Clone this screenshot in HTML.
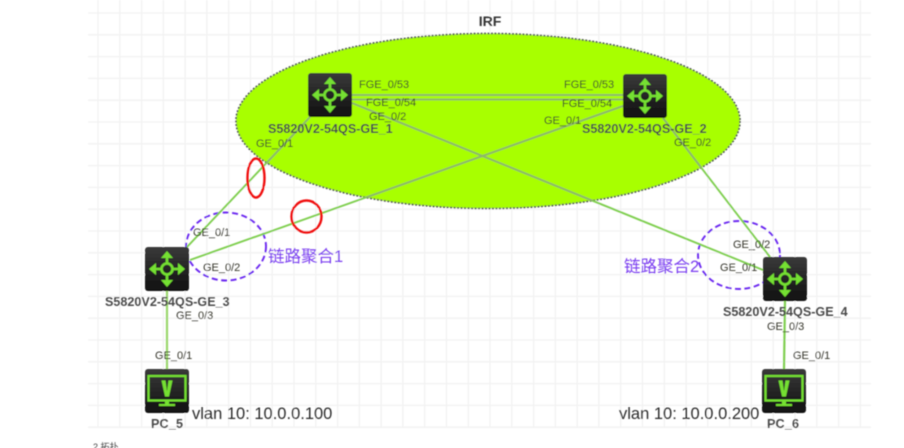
<!DOCTYPE html>
<html><head><meta charset="utf-8">
<style>
html,body{margin:0;padding:0;background:#fff;width:904px;height:448px;overflow:hidden}
svg{display:block}
text{font-family:"Liberation Sans","Noto Sans CJK SC",sans-serif;fill:#333}
.p{font-size:11px;fill:#34342a}
.n{font-size:12.6px;font-weight:bold;fill:#4a4a4a}
.v{font-size:16.5px;fill:#2c2c2c}
.c{font-size:16.5px;fill:#7a3cf0}
</style></head><body>
<svg width="904" height="448" viewBox="0 0 904 448" xmlns="http://www.w3.org/2000/svg">
<defs>
<filter id="b" x="-5%" y="-5%" width="110%" height="110%"><feGaussianBlur stdDeviation="0.55"/></filter>
<clipPath id="ec"><ellipse cx="488" cy="121" rx="252" ry="87.500"/></clipPath>
<linearGradient id="g" x1="0" y1="0" x2="0" y2="1"><stop offset="0" stop-color="#3a3a3a"/><stop offset="1" stop-color="#101010"/></linearGradient>
<g id="sw">
<rect x="0" y="0" width="44" height="44" rx="3" fill="url(#g)"/>
<g stroke="#74e030" stroke-width="2.600" fill="none">
<circle cx="22" cy="22" r="5.500"/>
<path d="M22 16V7M22 28V37M16 22H7M28 22H37"/>
</g>
<g fill="#74e030">
<path d="M22 4L28 11H16Z M22 40L28 33H16Z M4 22L11 16V28Z M40 22L33 16V28Z"/>
</g>
</g>
<g id="pc">
<rect x="0" y="0" width="44" height="44" rx="3" fill="url(#g)"/>
<rect x="3.500" y="7" width="37" height="24.500" fill="none" stroke="#74e030" stroke-width="2.200"/>
<path d="M16.500 11.500H20.500L22 22L23.500 11.500H27.500L24 27.500H20Z" fill="#74e030"/>
<path d="M20 32H24V35H30V37H14V35H20Z" fill="#74e030"/>
</g>
<g id="links">
<path d="M352 95H623M352 99.500H623"/>
<path d="M352 103L763 270"/>
<path d="M623 106L190 260"/>
<path d="M310 117L187 247"/>
<path d="M663 118L770 257"/>
</g>
</defs>
<g filter="url(#b)">
<g stroke="#f2f2f2" stroke-width="1.300">
<path d="M88 13H871M88 34.800H871M88 56.600H871M88 78.400H871M88 100.200H871M88 122H871M88 143.800H871M88 165.600H871M88 187.400H871M88 209.200H871M88 231H871M88 252.800H871M88 274.600H871M88 296.400H871M88 318.200H871M88 340H871M88 361.800H871M88 383.600H871M88 405.400H871M88 427.200H871"/>
<path d="M98 0V428M119.800 0V428M141.600 0V428M163.300 0V428M185.100 0V428M206.900 0V428M228.700 0V428M250.500 0V428M272.200 0V428M294 0V428M315.800 0V428M337.600 0V428M359.400 0V428M381.100 0V428M402.900 0V428M424.700 0V428M446.500 0V428M468.300 0V428M490 0V428M511.800 0V428M533.600 0V428M555.400 0V428M577.200 0V428M598.900 0V428M620.700 0V428M642.500 0V428M664.300 0V428M686.100 0V428M707.800 0V428M729.600 0V428M751.400 0V428M773.200 0V428M795 0V428M816.800 0V428M838.600 0V428M860.400 0V428"/>
</g>
<ellipse cx="488" cy="121" rx="252" ry="87.500" fill="#a8ff00" stroke="#555" stroke-width="1.700" stroke-dasharray="2 1.500"/>
<ellipse cx="226" cy="246.500" rx="40" ry="34" fill="none" stroke="#6a28f0" stroke-width="1.900" stroke-dasharray="6 3.500"/>
<ellipse cx="739" cy="255" rx="41" ry="34" fill="none" stroke="#6a28f0" stroke-width="1.900" stroke-dasharray="6 3.500"/>
<use href="#links" fill="none" stroke="#7fcf4f" stroke-width="1.900"/>
<use href="#links" fill="none" stroke="#8fb86a" stroke-width="2" clip-path="url(#ec)"/>
<path d="M167 291V369" stroke="#9ad66c" stroke-width="2.200" fill="none"/>
<path d="M785 300L784 369" stroke="#7fcf4f" stroke-width="2.200" fill="none"/>
<use href="#sw" x="308" y="73"/>
<use href="#sw" x="623" y="74"/>
<use href="#sw" x="145" y="247"/>
<use href="#sw" x="763" y="257"/>
<use href="#pc" x="145" y="369"/>
<use href="#pc" x="762" y="369"/>
<ellipse cx="256" cy="178" rx="8.500" ry="19.500" fill="none" stroke="#f01010" stroke-width="2.400"/>
<ellipse cx="306.500" cy="216.500" rx="15" ry="16" fill="none" stroke="#f01010" stroke-width="2.400"/>
<text x="490" y="26" text-anchor="middle" style="font-size:14px;font-weight:bold;fill:#333">IRF</text>
<text class="p" x="359" y="88">FGE_0/53</text>
<text class="p" x="366" y="106">FGE_0/54</text>
<text class="p" x="369" y="120">GE_0/2</text>
<text class="n" x="268" y="133">S5820V2-54QS-GE_1</text>
<text class="p" x="256" y="147">GE_0/1</text>
<text class="p" x="564" y="88">FGE_0/53</text>
<text class="p" x="562" y="107">FGE_0/54</text>
<text class="p" x="544" y="124">GE_0/1</text>
<text class="n" x="582" y="133">S5820V2-54QS-GE_2</text>
<text class="p" x="674" y="146">GE_0/2</text>
<text class="p" x="193" y="236">GE_0/1</text>
<text class="p" x="203" y="271">GE_0/2</text>
<text class="c" x="268" y="262">链路聚合1</text>
<text class="n" x="105" y="306">S5820V2-54QS-GE_3</text>
<text class="p" x="176" y="319">GE_0/3</text>
<text class="p" x="155" y="359">GE_0/1</text>
<text class="n" x="151" y="428" textLength="32">PC_5</text>
<text class="v" x="192" y="419">vlan 10: 10.0.0.100</text>
<text class="p" x="733" y="248">GE_0/2</text>
<text class="p" x="720" y="271">GE_0/1</text>
<text class="c" x="624" y="272">链路聚合2</text>
<text class="n" x="723" y="316">S5820V2-54QS-GE_4</text>
<text class="p" x="767" y="330">GE_0/3</text>
<text class="p" x="793" y="359">GE_0/1</text>
<text class="n" x="767" y="428" textLength="32">PC_6</text>
<text class="v" x="619" y="419">vlan 10: 10.0.0.200</text>
<text x="93" y="450" style="font-size:9px;fill:#444">2.拓扑</text>
</g>
</svg>
</body></html>
